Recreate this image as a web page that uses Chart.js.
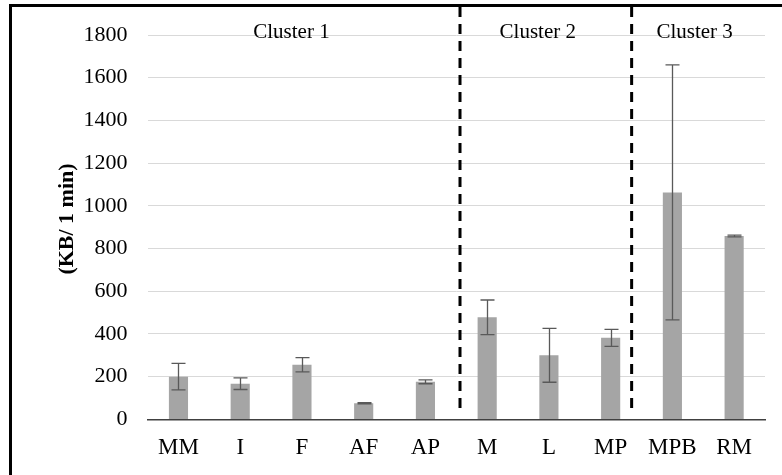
<!DOCTYPE html>
<html>
<head>
<meta charset="utf-8">
<script src="https://cdn.jsdelivr.net/npm/chart.js@4"></script>
<style>
  html, body { margin: 0; padding: 0; background: #fff; }
  #wrap { width: 782px; height: 475px; position: relative; }
</style>
</head>
<body>
<div id="wrap"><canvas id="grafico" width="782" height="475"></canvas></div>
<script>
// Datos del gráfico
const categorias = ['MM', 'I', 'F', 'AF', 'AP', 'M', 'L', 'MP', 'MPB', 'RM'];
const medias = [200, 167, 256, 76, 176, 478, 300, 382, 1063, 859];
const errores = [62, 27, 33, 3, 9, 81, 126, 40, 597, 4];
const ticksY = [0, 200, 400, 600, 800, 1000, 1200, 1400, 1600, 1800];

// Separadores y etiquetas de cluster (en unidades de índice de categoría)
const cortesCluster = [4.56, 7.34];
const nombresCluster = ['Cluster 1', 'Cluster 2', 'Cluster 3'];
const posicionCluster = [1.83, 5.82, 8.36];

const serif = '"Liberation Serif", "Times New Roman", serif';

// Plugin: marco, líneas punteadas, etiquetas, barras de error y título Y
const extras = {
  id: 'extras',
  beforeDraw(chart) {
    const ctx = chart.ctx;
    ctx.save();
    ctx.fillStyle = '#000';
    ctx.fillRect(9, 4, 773, 3);
    ctx.fillRect(9, 4, 3, 471);
    ctx.restore();
  },
  afterDatasetsDraw(chart) {
    const ctx = chart.ctx;
    const x = chart.scales.x;
    const y = chart.scales.y;

    // barras de error
    ctx.save();
    ctx.strokeStyle = '#595959';
    ctx.lineWidth = 1.3;
    medias.forEach((m, i) => {
      const px = Math.round(x.getPixelForValue(i)) + 0.5;
      const top = y.getPixelForValue(m + errores[i]);
      const bot = y.getPixelForValue(m - errores[i]);
      ctx.beginPath();
      ctx.moveTo(px, top); ctx.lineTo(px, bot);
      ctx.moveTo(px - 7, top); ctx.lineTo(px + 7, top);
      ctx.moveTo(px - 7, bot); ctx.lineTo(px + 7, bot);
      ctx.stroke();
    });
    ctx.restore();

    // líneas punteadas
    ctx.save();
    ctx.strokeStyle = '#000';
    ctx.lineWidth = 3;
    ctx.setLineDash([10, 7]);
    cortesCluster.forEach(c => {
      const px = x.getPixelForValue(c);
      ctx.beginPath();
      ctx.moveTo(px, 7);
      ctx.lineTo(px, 413);
      ctx.stroke();
    });
    ctx.restore();

    // nombres de cluster
    ctx.save();
    ctx.fillStyle = '#000';
    ctx.font = '21px ' + serif;
    ctx.textAlign = 'center';
    ctx.textBaseline = 'alphabetic';
    nombresCluster.forEach((n, i) => {
      ctx.fillText(n, x.getPixelForValue(posicionCluster[i]), 37.5);
    });
    ctx.restore();

    // título eje Y
    ctx.save();
    ctx.translate(67, 219);
    ctx.rotate(-Math.PI / 2);
    ctx.fillStyle = '#000';
    ctx.font = 'bold 22px ' + serif;
    ctx.textAlign = 'center';
    ctx.textBaseline = 'middle';
    ctx.fillText('(KB/ 1 min)', 0, 0);
    ctx.restore();
  }
};

new Chart(document.getElementById('grafico'), {
  type: 'bar',
  data: {
    labels: categorias,
    datasets: [{
      data: medias,
      backgroundColor: '#a5a5a5',
      borderWidth: 0,
      barPercentage: 0.31,
      categoryPercentage: 1
    }]
  },
  options: {
    responsive: false,
    animation: false,
    events: [],
    layout: { padding: { top: 35, right: 17, bottom: 0, left: 0 } },
    plugins: { legend: { display: false }, tooltip: { enabled: false } },
    scales: {
      x: {
        grid: { display: false, drawTicks: false },
        border: { display: true, color: '#404040', width: 1.5 },
        ticks: { color: '#000', font: { family: serif, size: 23 }, padding: 15 },
        afterFit(s) { s.height = 55.6; }
      },
      y: {
        min: 0,
        max: 1800,
        afterBuildTicks(s) { s.ticks = ticksY.map(v => ({ value: v })); },
        grid: { color: '#d9d9d9', lineWidth: 1, drawTicks: false },
        border: { display: false },
        ticks: {
          color: '#000',
          font: { family: serif, size: 22 },
          padding: 20,
          callback: v => String(v)
        },
        afterFit(s) { s.width = 147.6; }
      }
    }
  },
  plugins: [extras]
});
</script>
</body>
</html>
